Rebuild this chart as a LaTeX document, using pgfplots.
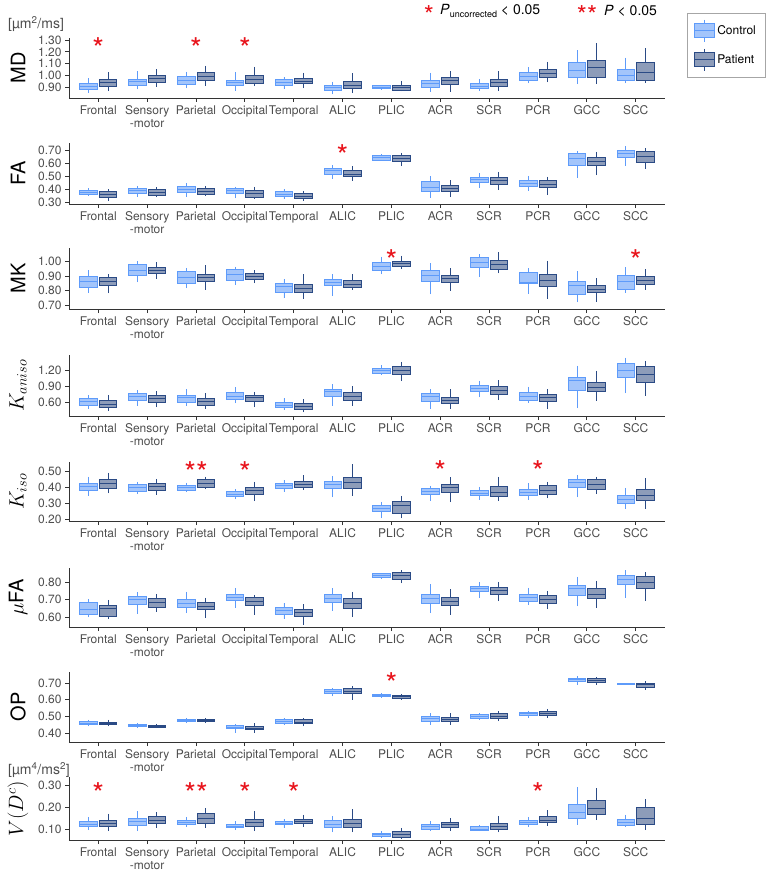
\documentclass[border=0pt]{standalone}
\usepackage{fontspec}
\setmainfont{TeX Gyre Heros}
\usepackage{pgfplots}
\pgfplotsset{compat=1.18}
\usepgfplotslibrary{statistics}

\definecolor{ctlE}{HTML}{5E9BFA}
\definecolor{ctlF}{HTML}{A3C5FB}
\definecolor{patE}{HTML}{2A4A85}
\definecolor{patF}{HTML}{8D9CB9}
\definecolor{txt}{HTML}{4D4D4D}
\definecolor{axl}{HTML}{333333}
\definecolor{sig}{HTML}{E8141C}

% one box: position, lower whisker, lower quartile, median, upper quartile, upper whisker
\newcommand{\bxc}[6]{\addplot[ctl, boxplot prepared={draw position=#1-0.2, lower whisker=#2, lower quartile=#3, median=#4, upper quartile=#5, upper whisker=#6}] coordinates {};}
\newcommand{\bxp}[6]{\addplot[pat, boxplot prepared={draw position=#1+0.2, lower whisker=#2, lower quartile=#3, median=#4, upper quartile=#5, upper whisker=#6}] coordinates {};}

\pgfplotsset{
  ctl/.style={draw=ctlE, fill=ctlF, line width=0.9pt, solid},
  pat/.style={draw=patE, fill=patF, line width=0.9pt, solid},
  boxleg/.style={legend image code/.code={
      \draw[##1] (0pt,-7pt) rectangle (20pt,7pt);
      \draw[##1] (0pt,0pt) -- (20pt,0pt);
      \draw[##1] (10pt,7pt) -- (10pt,11pt);
      \draw[##1] (10pt,-7pt) -- (10pt,-11pt);}},
  stars/.style={only marks, mark=text, text mark={*}, text mark as node=true,
      text mark style={font=\fontsize{30}{30}\selectfont, text=sig, anchor=center, inner sep=0pt, yshift=-6.5pt}},
  panel/.style={
    scale only axis, width=596pt, xmin=0.4, xmax=12.6, clip=false,
    axis x line*=bottom, axis y line*=left,
    axis line style={axl, line width=0.9pt, -},
    xtick={1,...,12},
    xticklabels={Frontal,{Sensory\\-motor},Parietal,Occipital,Temporal,ALIC,PLIC,ACR,SCR,PCR,GCC,SCC},
    xticklabel style={align=center, font=\fontsize{12}{13}\selectfont, text=txt},
    yticklabel style={font=\fontsize{12}{12}\selectfont, text=txt,
      /pgf/number format/fixed, /pgf/number format/fixed zerofill,
      /pgf/number format/precision=2, /pgf/number format/assume math mode=true},
    tick align=outside, major tick length=4pt, tick style={axl, line width=0.8pt},
    every axis y label/.style={at={(axis description cs:0,0.5)}, xshift=-51pt, rotate=90, anchor=center,
      font=\fontsize{20}{20}\selectfont},
    boxplot/draw direction=y, boxplot/box extend=0.36, boxplot/whisker extend=0,
  },
}

\begin{document}
\begin{tikzpicture}
\path[use as bounding box] (0pt,0pt) rectangle (774pt,-872pt);

% significance key
\node[text=sig, font=\fontsize{26}{26}\selectfont, inner sep=0pt] at (429pt,-15.5pt) {*};
\node[anchor=west, inner sep=0pt, font=\fontsize{14}{14}\selectfont] at (440pt,-11pt) {\textit{P}\raisebox{-0.35ex}{\fontsize{9}{9}\selectfont uncorrected} < 0.05};
\node[text=sig, font=\fontsize{26}{26}\selectfont, inner sep=0pt] at (587pt,-15.5pt) {**};
\node[anchor=west, inner sep=0pt, font=\fontsize{14}{14}\selectfont] at (604pt,-11pt) {\textit{P} < 0.05};

\node[anchor=west, text=txt, font=\fontsize{14}{14}\selectfont, inner sep=0pt] at (8pt,-24pt) {[µm\textsuperscript{2}/ms]};
\node[anchor=west, text=txt, font=\fontsize{14}{14}\selectfont, inner sep=0pt] at (8pt,-770pt) {[µm\textsuperscript{4}/ms\textsuperscript{2}]};

% ---------- MD
\begin{axis}[panel, at={(69pt,-98pt)}, anchor=south west, height=60pt,
  ymin=0.81, ymax=1.317, ytick={0.9,1.0,1.1,1.2,1.3}, ylabel={MD},
  legend style={at={(axis description cs:1.037,1.417)}, anchor=north west, draw=gray!70,
    line width=0.6pt, font=\fontsize{12}{12}\selectfont, row sep=6pt, inner xsep=7pt, inner ysep=6pt,
    cells={anchor=west}},
]
\addlegendimage{ctl, boxleg}\addlegendentry{Control}
\addlegendimage{pat, boxleg}\addlegendentry{Patient}
\bxc{1}{0.855}{0.883}{0.911}{0.934}{0.976} \bxp{1}{0.869}{0.911}{0.939}{0.970}{1.027}
\bxc{2}{0.883}{0.920}{0.948}{0.970}{1.038} \bxp{2}{0.906}{0.945}{0.973}{1.001}{1.052}
\bxc{3}{0.892}{0.925}{0.956}{0.990}{1.032} \bxp{3}{0.911}{0.956}{0.990}{1.027}{1.083}
\bxc{4}{0.872}{0.914}{0.939}{0.962}{1.027} \bxp{4}{0.911}{0.937}{0.968}{0.999}{1.075}
\bxc{5}{0.883}{0.917}{0.945}{0.967}{0.984} \bxp{5}{0.892}{0.931}{0.954}{0.976}{1.024}
\bxc{6}{0.841}{0.875}{0.897}{0.917}{0.948} \bxp{6}{0.849}{0.889}{0.917}{0.948}{1.018}
\bxc{7}{0.883}{0.889}{0.903}{0.917}{0.923} \bxp{7}{0.866}{0.877}{0.900}{0.920}{0.954}
\bxc{8}{0.863}{0.900}{0.931}{0.959}{1.024} \bxp{8}{0.863}{0.925}{0.962}{0.985}{1.038}
\bxc{9}{0.872}{0.892}{0.911}{0.934}{0.968} \bxp{9}{0.869}{0.911}{0.942}{0.968}{1.038}
\bxc{10}{0.934}{0.962}{0.993}{1.024}{1.069} \bxp{10}{0.942}{0.985}{1.021}{1.052}{1.117}
\bxc{11}{0.928}{0.985}{1.041}{1.108}{1.215} \bxp{11}{0.928}{0.985}{1.066}{1.125}{1.272}
\bxc{12}{0.934}{0.962}{1.004}{1.052}{1.151} \bxp{12}{0.939}{0.962}{1.027}{1.111}{1.230}
\addplot[stars] coordinates {(1,1.286) (3,1.286) (4,1.286)};
\end{axis}

% ---------- FA
\begin{axis}[panel, at={(69pt,-204pt)}, anchor=south west, height=61pt,
  ymin=0.290, ymax=0.753, ytick={0.3,0.4,0.5,0.6,0.7}, ylabel={FA}]
\bxc{1}{0.351}{0.363}{0.381}{0.396}{0.409} \bxp{1}{0.315}{0.341}{0.363}{0.384}{0.401}
\bxc{2}{0.346}{0.371}{0.391}{0.409}{0.427} \bxp{2}{0.341}{0.353}{0.381}{0.401}{0.416}
\bxc{3}{0.346}{0.378}{0.401}{0.422}{0.447} \bxp{3}{0.351}{0.363}{0.389}{0.409}{0.427}
\bxc{4}{0.333}{0.368}{0.391}{0.406}{0.422} \bxp{4}{0.328}{0.341}{0.371}{0.396}{0.422}
\bxc{5}{0.325}{0.346}{0.363}{0.384}{0.401} \bxp{5}{0.315}{0.333}{0.351}{0.371}{0.391}
\bxc{6}{0.480}{0.518}{0.541}{0.561}{0.586} \bxp{6}{0.467}{0.497}{0.518}{0.541}{0.578}
\bxc{7}{0.619}{0.624}{0.642}{0.657}{0.670} \bxp{7}{0.578}{0.611}{0.637}{0.662}{0.680}
\bxc{8}{0.338}{0.389}{0.416}{0.459}{0.503} \bxp{8}{0.341}{0.384}{0.406}{0.429}{0.472}
\bxc{9}{0.414}{0.454}{0.475}{0.490}{0.523} \bxp{9}{0.396}{0.442}{0.467}{0.490}{0.535}
\bxc{10}{0.389}{0.427}{0.447}{0.472}{0.503} \bxp{10}{0.358}{0.414}{0.442}{0.472}{0.497}
\bxc{11}{0.490}{0.586}{0.637}{0.675}{0.695} \bxp{11}{0.508}{0.584}{0.611}{0.644}{0.687}
\bxc{12}{0.581}{0.644}{0.675}{0.700}{0.730} \bxp{12}{0.556}{0.606}{0.649}{0.690}{0.713}
\addplot[stars] coordinates {(6,0.705)};
\end{axis}

% ---------- MK
\begin{axis}[panel, at={(69pt,-309pt)}, anchor=south west, height=61pt,
  ymin=0.672, ymax=1.095, ytick={0.7,0.8,0.9,1.0}, ylabel={MK}]
\bxc{1}{0.785}{0.820}{0.862}{0.896}{0.942} \bxp{1}{0.781}{0.832}{0.862}{0.889}{0.912}
\bxc{2}{0.857}{0.903}{0.942}{0.982}{1.005} \bxp{2}{0.880}{0.919}{0.942}{0.961}{0.995}
\bxc{3}{0.815}{0.850}{0.889}{0.931}{0.958} \bxp{3}{0.804}{0.862}{0.889}{0.912}{0.977}
\bxc{4}{0.838}{0.873}{0.912}{0.949}{0.965} \bxp{4}{0.850}{0.878}{0.901}{0.919}{0.942}
\bxc{5}{0.746}{0.788}{0.827}{0.850}{0.878} \bxp{5}{0.742}{0.788}{0.815}{0.843}{0.912}
\bxc{6}{0.762}{0.832}{0.857}{0.880}{0.912} \bxp{6}{0.804}{0.820}{0.845}{0.868}{0.912}
\bxc{7}{0.912}{0.942}{0.970}{0.993}{1.035} \bxp{7}{0.949}{0.970}{0.988}{1.005}{1.042}
\bxc{8}{0.774}{0.862}{0.903}{0.938}{0.988} \bxp{8}{0.797}{0.855}{0.885}{0.908}{0.954}
\bxc{9}{0.896}{0.961}{0.995}{1.028}{1.051} \bxp{9}{0.919}{0.949}{0.982}{1.012}{1.065}
\bxc{10}{0.776}{0.850}{0.855}{0.926}{0.954} \bxp{10}{0.742}{0.827}{0.873}{0.912}{1.007}
\bxc{11}{0.718}{0.776}{0.834}{0.862}{0.935} \bxp{11}{0.723}{0.785}{0.808}{0.832}{0.885}
\bxc{12}{0.785}{0.811}{0.862}{0.908}{0.961} \bxp{12}{0.804}{0.845}{0.873}{0.901}{0.947}
\addplot[stars] coordinates {(7,1.05) (12,1.05)};
\end{axis}

% ---------- K aniso
\begin{axis}[panel, at={(69pt,-416pt)}, anchor=south west, height=61pt,
  ymin=0.355, ymax=1.476, ytick={0.6,0.9,1.2}, ylabel={$K_{aniso}$}]
\bxc{1}{0.484}{0.545}{0.618}{0.680}{0.741} \bxp{1}{0.453}{0.514}{0.575}{0.649}{0.741}
\bxc{2}{0.539}{0.637}{0.722}{0.771}{0.833} \bxp{2}{0.514}{0.600}{0.680}{0.741}{0.814}
\bxc{3}{0.539}{0.600}{0.692}{0.741}{0.851} \bxp{3}{0.484}{0.557}{0.618}{0.680}{0.771}
\bxc{4}{0.588}{0.667}{0.722}{0.784}{0.882} \bxp{4}{0.514}{0.631}{0.692}{0.741}{0.802}
\bxc{5}{0.465}{0.514}{0.557}{0.600}{0.680} \bxp{5}{0.422}{0.484}{0.527}{0.588}{0.661}
\bxc{6}{0.545}{0.722}{0.802}{0.851}{0.937} \bxp{6}{0.539}{0.637}{0.710}{0.790}{0.906}
\bxc{7}{1.108}{1.139}{1.188}{1.231}{1.292} \bxp{7}{0.998}{1.127}{1.200}{1.261}{1.353}
\bxc{8}{0.484}{0.631}{0.710}{0.771}{0.851} \bxp{8}{0.484}{0.588}{0.649}{0.698}{0.845}
\bxc{9}{0.698}{0.802}{0.863}{0.924}{1.004} \bxp{9}{0.649}{0.759}{0.833}{0.906}{1.016}
\bxc{10}{0.600}{0.649}{0.722}{0.784}{0.894} \bxp{10}{0.484}{0.631}{0.692}{0.753}{0.851}
\bxc{11}{0.496}{0.820}{1.004}{1.059}{1.280} \bxp{11}{0.631}{0.802}{0.882}{0.973}{1.188}
\bxc{12}{0.771}{1.059}{1.188}{1.322}{1.427} \bxp{12}{0.729}{0.973}{1.120}{1.273}{1.371}
\end{axis}

% ---------- K iso
\begin{axis}[panel, at={(69pt,-521pt)}, anchor=south west, height=59pt,
  ymin=0.189, ymax=0.561, ytick={0.2,0.3,0.4,0.5}, ylabel={$K_{iso}$}]
\bxc{1}{0.347}{0.380}{0.406}{0.427}{0.469} \bxp{1}{0.364}{0.395}{0.427}{0.448}{0.494}
\bxc{2}{0.359}{0.378}{0.399}{0.420}{0.437} \bxp{2}{0.353}{0.380}{0.406}{0.427}{0.454}
\bxc{3}{0.378}{0.380}{0.399}{0.412}{0.431} \bxp{3}{0.389}{0.401}{0.427}{0.448}{0.469}
\bxc{4}{0.326}{0.343}{0.359}{0.374}{0.389} \bxp{4}{0.315}{0.357}{0.380}{0.399}{0.437}
\bxc{5}{0.374}{0.395}{0.412}{0.427}{0.448} \bxp{5}{0.385}{0.401}{0.420}{0.437}{0.479}
\bxc{6}{0.338}{0.395}{0.420}{0.441}{0.473} \bxp{6}{0.347}{0.395}{0.433}{0.462}{0.548}
\bxc{7}{0.206}{0.252}{0.269}{0.290}{0.311} \bxp{7}{0.206}{0.234}{0.284}{0.315}{0.347}
\bxc{8}{0.315}{0.357}{0.374}{0.395}{0.412} \bxp{8}{0.307}{0.370}{0.399}{0.422}{0.464}
\bxc{9}{0.322}{0.349}{0.364}{0.380}{0.406} \bxp{9}{0.315}{0.343}{0.368}{0.406}{0.469}
\bxc{10}{0.322}{0.353}{0.370}{0.389}{0.427} \bxp{10}{0.332}{0.359}{0.380}{0.412}{0.437}
\bxc{11}{0.338}{0.401}{0.431}{0.452}{0.479} \bxp{11}{0.359}{0.389}{0.420}{0.448}{0.469}
\bxc{12}{0.265}{0.301}{0.326}{0.347}{0.395} \bxp{12}{0.265}{0.317}{0.347}{0.391}{0.458}
\addplot[stars, text mark={**}] coordinates {(3,0.536)};
\addplot[stars] coordinates {(4,0.536) (8,0.54) (10,0.54)};
\end{axis}

% ---------- micro FA
\begin{axis}[panel, at={(69pt,-627pt)}, anchor=south west, height=59pt,
  ymin=0.543, ymax=0.882, ytick={0.6,0.7,0.8}, ylabel={$\mu$FA}]
\bxc{1}{0.598}{0.617}{0.642}{0.686}{0.705} \bxp{1}{0.589}{0.604}{0.651}{0.667}{0.699}
\bxc{2}{0.619}{0.674}{0.699}{0.718}{0.743} \bxp{2}{0.632}{0.657}{0.686}{0.709}{0.733}
\bxc{3}{0.623}{0.655}{0.680}{0.703}{0.747} \bxp{3}{0.594}{0.642}{0.661}{0.684}{0.712}
\bxc{4}{0.655}{0.695}{0.712}{0.728}{0.766} \bxp{4}{0.613}{0.667}{0.690}{0.712}{0.728}
\bxc{5}{0.590}{0.617}{0.636}{0.655}{0.680} \bxp{5}{0.556}{0.604}{0.627}{0.646}{0.674}
\bxc{6}{0.636}{0.684}{0.709}{0.728}{0.766} \bxp{6}{0.600}{0.651}{0.680}{0.709}{0.747}
\bxc{7}{0.819}{0.829}{0.838}{0.848}{0.851} \bxp{7}{0.794}{0.819}{0.838}{0.855}{0.870}
\bxc{8}{0.623}{0.680}{0.705}{0.731}{0.789} \bxp{8}{0.613}{0.667}{0.690}{0.712}{0.760}
\bxc{9}{0.709}{0.747}{0.762}{0.775}{0.800} \bxp{9}{0.690}{0.728}{0.752}{0.771}{0.804}
\bxc{10}{0.670}{0.690}{0.712}{0.731}{0.770} \bxp{10}{0.646}{0.680}{0.703}{0.724}{0.752}
\bxc{11}{0.661}{0.722}{0.766}{0.781}{0.832} \bxp{11}{0.655}{0.705}{0.731}{0.766}{0.810}
\bxc{12}{0.709}{0.789}{0.819}{0.842}{0.870} \bxp{12}{0.693}{0.762}{0.798}{0.832}{0.857}
\end{axis}

% ---------- OP
\begin{axis}[panel, at={(69pt,-742pt)}, anchor=south west, height=70pt,
  ymin=0.346, ymax=0.766, ytick={0.4,0.5,0.6,0.7}, ylabel={OP}]
\bxc{1}{0.44}{0.45}{0.46}{0.47}{0.48} \bxp{1}{0.44}{0.45}{0.46}{0.465}{0.48}
\bxc{2}{0.43}{0.44}{0.445}{0.45}{0.46} \bxp{2}{0.43}{0.435}{0.44}{0.445}{0.455}
\bxc{3}{0.46}{0.47}{0.475}{0.48}{0.49} \bxp{3}{0.46}{0.47}{0.475}{0.48}{0.49}
\bxc{4}{0.40}{0.425}{0.435}{0.445}{0.455} \bxp{4}{0.40}{0.42}{0.43}{0.44}{0.46}
\bxc{5}{0.45}{0.46}{0.47}{0.48}{0.49} \bxp{5}{0.44}{0.455}{0.465}{0.48}{0.49}
\bxc{6}{0.62}{0.64}{0.65}{0.66}{0.67} \bxp{6}{0.60}{0.635}{0.65}{0.665}{0.68}
\bxc{7}{0.61}{0.62}{0.625}{0.63}{0.64} \bxp{7}{0.60}{0.61}{0.62}{0.625}{0.635}
\bxc{8}{0.45}{0.47}{0.485}{0.50}{0.52} \bxp{8}{0.45}{0.47}{0.48}{0.495}{0.52}
\bxc{9}{0.48}{0.49}{0.50}{0.51}{0.52} \bxp{9}{0.47}{0.49}{0.50}{0.515}{0.53}
\bxc{10}{0.49}{0.505}{0.515}{0.525}{0.535} \bxp{10}{0.49}{0.505}{0.52}{0.53}{0.545}
\bxc{11}{0.69}{0.71}{0.72}{0.73}{0.74} \bxp{11}{0.69}{0.705}{0.715}{0.725}{0.735}
\bxc{12}{0.69}{0.692}{0.695}{0.70}{0.70} \bxp{12}{0.66}{0.675}{0.69}{0.70}{0.71}
\addplot[stars] coordinates {(7,0.735)};
\end{axis}

% ---------- V(D^c)
\begin{axis}[panel, at={(69pt,-840pt)}, anchor=south west, height=63pt,
  ymin=0.05, ymax=0.336, ytick={0.1,0.2,0.3}, ylabel={$V(D^c)$}]
\bxc{1}{0.095}{0.11}{0.12}{0.135}{0.155} \bxp{1}{0.09}{0.11}{0.125}{0.14}{0.17}
\bxc{2}{0.09}{0.115}{0.135}{0.15}{0.18} \bxp{2}{0.105}{0.125}{0.14}{0.155}{0.175}
\bxc{3}{0.11}{0.12}{0.13}{0.14}{0.155} \bxp{3}{0.105}{0.125}{0.15}{0.17}{0.195}
\bxc{4}{0.095}{0.105}{0.11}{0.12}{0.135} \bxp{4}{0.09}{0.11}{0.13}{0.145}{0.18}
\bxc{5}{0.105}{0.12}{0.125}{0.135}{0.145} \bxp{5}{0.11}{0.125}{0.135}{0.145}{0.165}
\bxc{6}{0.085}{0.105}{0.12}{0.14}{0.16} \bxp{6}{0.085}{0.105}{0.125}{0.145}{0.19}
\bxc{7}{0.06}{0.065}{0.075}{0.08}{0.09} \bxp{7}{0.055}{0.06}{0.075}{0.09}{0.105}
\bxc{8}{0.09}{0.10}{0.11}{0.12}{0.135} \bxp{8}{0.09}{0.105}{0.12}{0.13}{0.15}
\bxc{9}{0.09}{0.095}{0.10}{0.11}{0.12} \bxp{9}{0.085}{0.10}{0.11}{0.125}{0.16}
\bxc{10}{0.11}{0.12}{0.13}{0.14}{0.155} \bxp{10}{0.115}{0.13}{0.14}{0.155}{0.185}
\bxc{11}{0.12}{0.15}{0.175}{0.21}{0.29} \bxp{11}{0.14}{0.165}{0.195}{0.23}{0.285}
\bxc{12}{0.11}{0.115}{0.13}{0.145}{0.165} \bxp{12}{0.095}{0.12}{0.15}{0.20}{0.235}
\addplot[stars, text mark={**}] coordinates {(3,0.29)};
\addplot[stars] coordinates {(1,0.29) (4,0.29) (5,0.29) (10,0.29)};
\end{axis}
\end{tikzpicture}
\end{document}
